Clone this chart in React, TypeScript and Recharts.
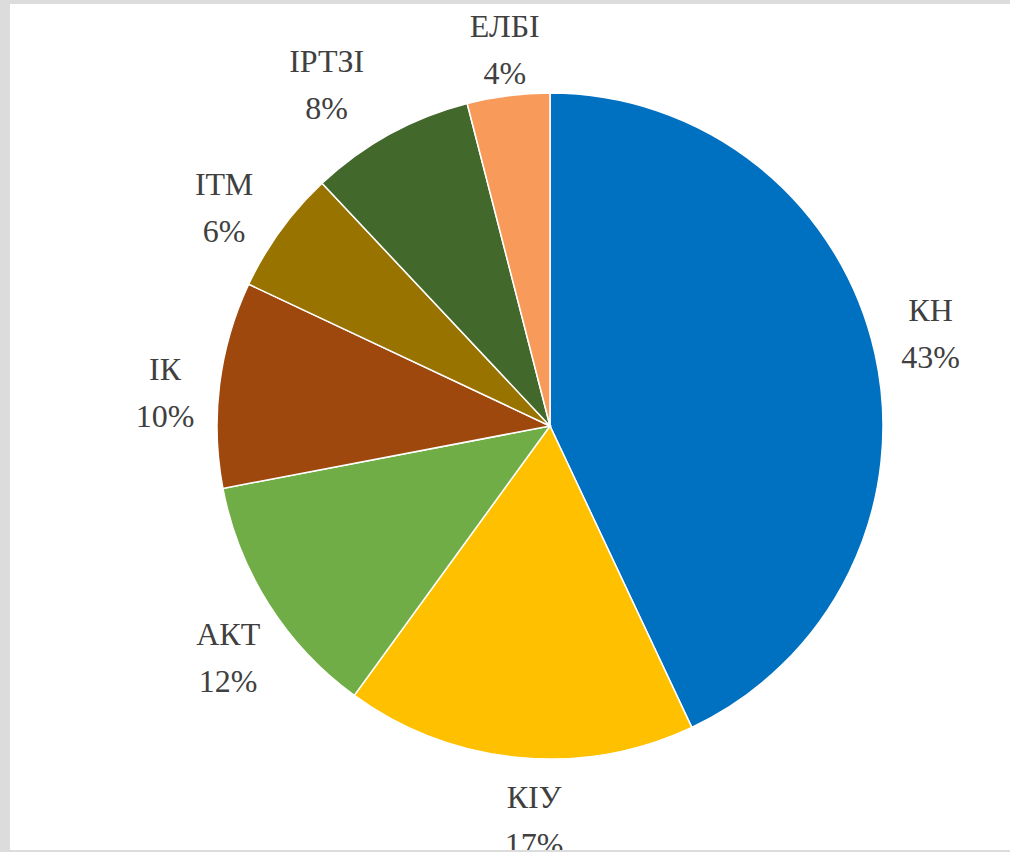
import { PieChart, Pie, Cell } from 'recharts';

const faculties = ['КН', 'КІУ', 'АКТ', 'ІК', 'ІТМ', 'ІРТЗІ', 'ЕЛБІ'];
const shares = [43, 17, 12, 10, 6, 8, 4];
const colors = ['#0070C0', '#FFC000', '#70AD47', '#9E480E', '#997300', '#43682B', '#F79A5A'];

const data = faculties.map((name, i) => ({ name, value: shares[i] }));

// small per-label nudges so the labels sit where the original put them
const labelNudge = [
  [-3, -7],
  [21, 3],
  [10, 20],
  [5, 15],
  [-8, 12],
  [-34, 2],
  [4, 13],
];

const RAD = Math.PI / 180;
const SERIF = '"Liberation Serif", "DejaVu Serif", "Times New Roman", serif';

// two-line label (name + percent), centred outside each slice
const renderLabel = (props: any) => {
  const { cx, cy, midAngle, outerRadius, name, value, index } = props;
  const r = outerRadius + 60;
  const [dx, dy] = labelNudge[index] ?? [0, 0];
  const x = cx + r * Math.cos(-midAngle * RAD) + dx;
  const y = cy + r * Math.sin(-midAngle * RAD) + dy;
  return (
    <text
      x={x}
      y={y}
      textAnchor="middle"
      fill="#404040"
      style={{ fontFamily: SERIF, fontSize: 32 }}
    >
      <tspan x={x} y={y - 12} style={{ fontFamily: SERIF }}>{name}</tspan>
      <tspan x={x} y={y + 35} style={{ fontFamily: SERIF }}>{`${value}%`}</tspan>
    </text>
  );
};

export default function App() {
  return (
    <div
      style={{
        position: 'fixed',
        left: 0,
        top: 0,
        width: 1010,
        height: 852,
        background: '#dcdcdc',
        fontFamily: SERIF,
      }}
    >
      <div
        style={{
          position: 'absolute',
          left: 10,
          top: 4,
          width: 1000,
          height: 846,
          background: '#ffffff',
          overflow: 'hidden',
        }}
      >
        <PieChart width={1000} height={846} margin={{ top: 0, right: 0, bottom: 0, left: 0 }}>
          <Pie
            data={data}
            dataKey="value"
            nameKey="name"
            cx={540}
            cy={422}
            outerRadius={333}
            startAngle={90}
            endAngle={-270}
            stroke="#ffffff"
            strokeWidth={1.5}
            label={renderLabel}
            labelLine={false}
            isAnimationActive={false}
          >
            {data.map((d, i) => (
              <Cell key={d.name} fill={colors[i]} />
            ))}
          </Pie>
        </PieChart>
      </div>
    </div>
  );
}
